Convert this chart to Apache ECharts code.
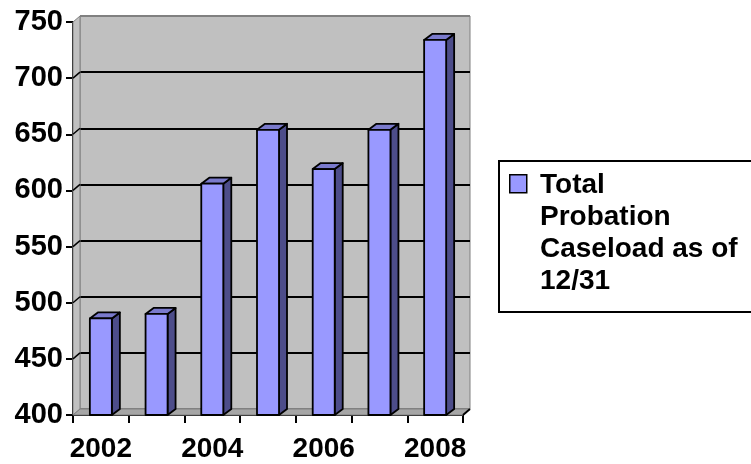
<!DOCTYPE html>
<html>
<head>
<meta charset="utf-8">
<script src="https://cdn.jsdelivr.net/npm/echarts@6/dist/echarts.min.js"></script>
<style>
html,body{margin:0;padding:0;background:#fff;}
#chart{width:751px;height:464px;}
</style>
</head>
<body>
<div id="chart"></div>
<script>
const years = ['2002', '2003', '2004', '2005', '2006', '2007', '2008'];
const caseload = [486, 490, 606, 654, 619, 654, 734];
const seriesName = 'Total Probation Caseload as of 12/31';
const legendLines = ['Total', 'Probation', 'Caseload as of', '12/31'];
const yMin = 400, yMax = 750, yStep = 50;

const FONT = '"Liberation Sans", Arial, sans-serif';
const WALL_DX = 7, WALL_DY = -6;
const BAR_DX = 8, BAR_DY = -6;

const chart = echarts.init(document.getElementById('chart'), null, {renderer: 'canvas'});

const yTicks = [];
for (let v = yMin; v <= yMax; v += yStep) yTicks.push(v);

const option = {
  backgroundColor: '#ffffff',
  animation: false,
  grid: [
    {left: 73, top: 22, width: 390, height: 393, show: false},
    {left: 80, top: 16, width: 390, height: 393, show: true,
     backgroundColor: '#c0c0c0', borderColor: '#808080', borderWidth: 1}
  ],
  xAxis: [
    {
      type: 'category', gridIndex: 0, data: years, boundaryGap: true,
      axisLine: {show: true, lineStyle: {color: '#000', width: 2}},
      axisTick: {show: true, interval: 0, alignWithLabel: false, length: 8,
                 lineStyle: {color: '#000', width: 2}},
      axisLabel: {interval: 1, margin: 20, color: '#000', fontSize: 28,
                  fontWeight: 'bold', fontFamily: FONT},
      splitLine: {show: false}
    },
    {type: 'value', gridIndex: 1, show: false, min: 0, max: 1}
  ],
  yAxis: [
    {
      type: 'value', gridIndex: 0, min: yMin, max: yMax, interval: yStep,
      axisLine: {show: true, lineStyle: {color: '#000', width: 2}},
      axisTick: {show: true, length: 7, lineStyle: {color: '#000', width: 2}},
      axisLabel: {margin: 10, color: '#000', fontSize: 29, fontWeight: 'bold',
                  fontFamily: FONT},
      splitLine: {show: false}
    },
    {
      type: 'value', gridIndex: 1, min: yMin, max: yMax, interval: yStep,
      axisLine: {show: false}, axisTick: {show: false}, axisLabel: {show: false},
      splitLine: {show: true, lineStyle: {
        color: ['#808080', '#000', '#000', '#000', '#000', '#000', '#000', '#808080'],
        width: 2}}
    }
  ],
  series: [
    {
      // left wall, floor and their edges
      type: 'custom', name: 'walls', xAxisIndex: 0, yAxisIndex: 0,
      silent: true, z: 1,
      data: [[0, yMin]],
      renderItem: function (params, api) {
        const r = params.coordSys;
        const x0 = r.x, x1 = r.x + r.width, y0 = r.y, y1 = r.y + r.height;
        const children = [];
        children.push({type: 'polygon', shape: {points: [
          [x0, y0], [x0 + WALL_DX, y0 + WALL_DY], [x0 + WALL_DX, y1 + WALL_DY], [x0, y1]]},
          style: {fill: '#c0c0c0', stroke: '#808080', lineWidth: 1}});
        children.push({type: 'polygon', shape: {points: [
          [x0, y1], [x0 + WALL_DX, y1 + WALL_DY], [x1 + WALL_DX, y1 + WALL_DY], [x1, y1]]},
          style: {fill: '#a6a6a6', stroke: '#808080', lineWidth: 1}});
        yTicks.forEach(function (v) {
          if (v === yMin || v === yMax) return;
          const p = api.coord([0, v]);
          children.push({type: 'line', shape: {x1: x0, y1: p[1], x2: x0 + WALL_DX, y2: p[1] + WALL_DY},
            style: {stroke: '#000', lineWidth: 1.5}});
        });
        children.push({type: 'line', shape: {x1: x1, y1: y1, x2: x1 + WALL_DX, y2: y1 + WALL_DY},
          style: {stroke: '#000', lineWidth: 2}});
        return {type: 'group', children: children};
      }
    },
    {
      type: 'custom', name: seriesName, xAxisIndex: 0, yAxisIndex: 0, z: 5,
      itemStyle: {color: '#9999ff'},
      encode: {x: 0, y: 1},
      data: years.map(function (y, i) { return [i, caseload[i]]; }),
      renderItem: function (params, api) {
        const idx = api.value(0), v = api.value(1);
        const top = api.coord([idx, v]);
        const base = api.coord([idx, yMin]);
        const band = api.size([1, 0])[0];
        const w = band * 0.395;
        const xl = top[0] - w / 2, xr = top[0] + w / 2;
        const yt = top[1], yb = base[1];
        const st = {stroke: '#000', lineWidth: 1.8, lineJoin: 'round'};
        return {type: 'group', children: [
          {type: 'polygon', shape: {points: [[xr, yt], [xr + BAR_DX, yt + BAR_DY], [xr + BAR_DX, yb + BAR_DY], [xr, yb]]},
           style: Object.assign({fill: '#4d4d8a'}, st)},
          {type: 'polygon', shape: {points: [[xl, yt], [xl + BAR_DX, yt + BAR_DY], [xr + BAR_DX, yt + BAR_DY], [xr, yt]]},
           style: Object.assign({fill: '#7a7acc'}, st)},
          {type: 'rect', shape: {x: xl, y: yt, width: w, height: yb - yt},
           style: Object.assign({fill: '#9999ff'}, st)}
        ]};
      }
    }
  ],
  graphic: [
    {type: 'rect', left: 498, top: 160, z: 10,
     shape: {width: 300, height: 151},
     style: {fill: '#fff', stroke: '#000', lineWidth: 2}},
    {type: 'rect', left: 509, top: 174, z: 11,
     shape: {width: 17, height: 18},
     style: {fill: '#9999ff', stroke: '#000', lineWidth: 1.5}},
    {type: 'text', left: 540, top: 169, z: 11,
     style: {text: legendLines.join('\n'), fill: '#000', fontSize: 28, fontWeight: 'bold',
             fontFamily: FONT, lineHeight: 32}}
  ]
};
chart.setOption(option);
</script>
</body>
</html>
